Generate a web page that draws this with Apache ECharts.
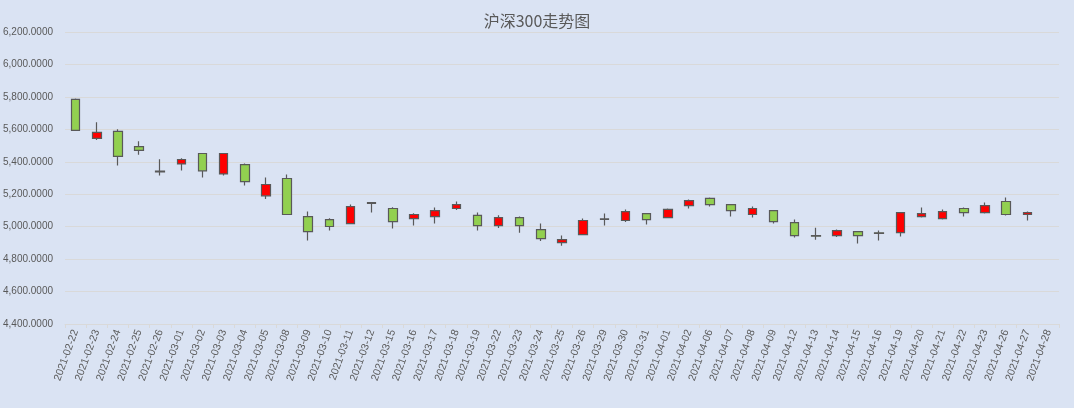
<!DOCTYPE html>
<html>
<head>
<meta charset="utf-8">
<title>沪深300走势图</title>
<script src="https://cdn.jsdelivr.net/npm/echarts@6/dist/echarts.min.js"></script>
<style>
  html, body { margin: 0; padding: 0; background: #dae3f3; }
  #chart { width: 1074px; height: 408px; }
</style>
</head>
<body>
<div id="chart"></div>
<script>
// 交易日
const dates = [
  '2021-02-22', '2021-02-23', '2021-02-24', '2021-02-25', '2021-02-26',
  '2021-03-01', '2021-03-02', '2021-03-03', '2021-03-04', '2021-03-05',
  '2021-03-08', '2021-03-09', '2021-03-10', '2021-03-11', '2021-03-12',
  '2021-03-15', '2021-03-16', '2021-03-17', '2021-03-18', '2021-03-19',
  '2021-03-22', '2021-03-23', '2021-03-24', '2021-03-25', '2021-03-26',
  '2021-03-29', '2021-03-30', '2021-03-31', '2021-04-01', '2021-04-02',
  '2021-04-06', '2021-04-07', '2021-04-08', '2021-04-09', '2021-04-12',
  '2021-04-13', '2021-04-14', '2021-04-15', '2021-04-16', '2021-04-19',
  '2021-04-20', '2021-04-21', '2021-04-22', '2021-04-23', '2021-04-26',
  '2021-04-27', '2021-04-28'
]
// 开盘 / 收盘 / 最低 / 最高 (04-28 无数据)
const openVals = [
  5785, 5544, 5587, 5494, 5342, 5387, 5451, 5325, 5383, 5190,
  5297, 5062, 5044, 5019, 5148, 5112, 5050, 5062, 5112, 5069,
  5007, 5056, 4982, 4902, 4951, 5048, 5038, 5081, 5056, 5130,
  5174, 5136, 5075, 5099, 5025, 4945, 4945, 4970, 4962, 4963,
  5062, 5050, 5112, 5087, 5155, 5075, null
]
const closeVals = [
  5593, 5581, 5433, 5470, 5337, 5414, 5344, 5451, 5278, 5260,
  5075, 4970, 5001, 5124, 5144, 5031, 5075, 5099, 5136, 5007,
  5056, 5007, 4926, 4920, 5038, 5045, 5093, 5044, 5106, 5161,
  5136, 5099, 5112, 5031, 4945, 4941, 4976, 4945, 4958, 5087,
  5081, 5093, 5087, 5130, 5075, 5087, null
]
const lowVals = [
  5590, 5535, 5377, 5443, 5315, 5346, 5303, 5315, 5254, 5171,
  5073, 4914, 4976, 5017, 5087, 4988, 5007, 5019, 5103, 4976,
  4992, 4963, 4912, 4883, 4950, 5007, 5029, 5013, 5054, 5112,
  5124, 5062, 5056, 5019, 4933, 4920, 4937, 4896, 4914, 4939,
  5056, 5044, 5062, 5081, 5069, 5038, null
]
const highVals = [
  5790, 5644, 5601, 5527, 5416, 5422, 5453, 5453, 5390, 5303,
  5322, 5093, 5052, 5136, 5150, 5120, 5083, 5118, 5155, 5087,
  5070, 5062, 5019, 4945, 5050, 5081, 5106, 5083, 5112, 5167,
  5180, 5138, 5124, 5101, 5044, 4994, 4982, 4972, 4976, 5089,
  5118, 5106, 5118, 5149, 5180, 5093, null
]

const kData = dates.map((d, i) =>
  openVals[i] == null ? '-' : [openVals[i], closeVals[i], lowVals[i], highVals[i]]
)

const chart = echarts.init(document.getElementById('chart'))
const textColor = '#595959'
const lineColor = '#d9d9d9'

const optionData = {
  backgroundColor: '#dae3f3',
  animation: false,
  title: {
    text: '沪深300走势图',
    left: 'center',
    top: 8,
    textStyle: {
      color: textColor,
      fontSize: 16,
      fontWeight: 'normal',
      fontFamily: 'Noto Sans CJK SC'
    }
  },
  grid: {
    left: 60,
    right: 15,
    top: 32,
    bottom: 84
  },
  xAxis: {
    type: 'category',
    data: dates,
    axisLine: { lineStyle: { color: lineColor } },
    axisTick: { show: true, length: 4, lineStyle: { color: lineColor } },
    axisLabel: {
      rotate: 70,
      interval: 0,
      color: textColor,
      fontSize: 10.5,
      fontFamily: 'Liberation Sans',
      margin: 6
    },
    splitLine: { show: false }
  },
  yAxis: {
    type: 'value',
    min: 4400,
    max: 6200,
    interval: 200,
    axisLine: { show: false },
    axisTick: { show: false },
    axisLabel: {
      color: textColor,
      fontSize: 10,
      fontFamily: 'Liberation Sans',
      margin: 12,
      formatter: v => v.toLocaleString('en-US', { minimumFractionDigits: 4, maximumFractionDigits: 4 })
    },
    splitLine: { lineStyle: { color: lineColor } }
  },
  series: [{
    type: 'candlestick',
    data: kData,
    barWidth: 9,
    itemStyle: {
      color: '#ff0000',
      color0: '#92d050',
      borderColor: '#595959',
      borderColor0: '#595959',
      borderWidth: 1.2
    }
  }]
}

chart.setOption(optionData)
</script>
</body>
</html>
